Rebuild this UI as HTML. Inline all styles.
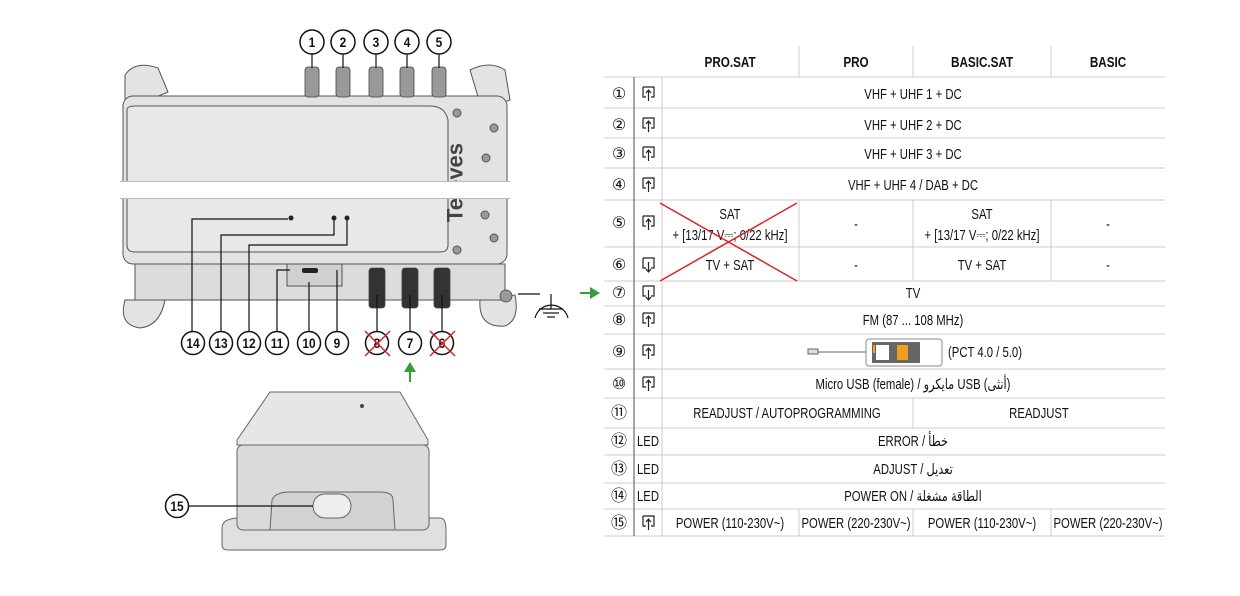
<!DOCTYPE html>
<html><head><meta charset="utf-8"><style>
body{margin:0;background:#fff}
svg text{font-family:"Liberation Sans","DejaVu Sans",sans-serif;font-size:14.5px;fill:#111;text-anchor:middle;transform-box:fill-box;transform-origin:center;transform:scaleX(0.78)}
svg text.b{font-weight:bold;font-size:15px}
svg text.n{font-size:16px;transform:none}
svg text.c{font-weight:bold;font-size:14px;transform:scaleX(0.85)}
</style></head><body>
<svg width="1240" height="591" viewBox="0 0 1240 591" xmlns="http://www.w3.org/2000/svg">
<!-- top device -->
<g stroke="#555" stroke-width="1" fill="#e3e3e3">
<path d="M125 75 Q135 60 158 68 L168 92 L125 110 Z"/>
<path d="M470 70 Q490 60 505 70 L510 100 L482 110 Z"/>
<path d="M125 300 Q118 325 140 328 Q160 326 165 300 Z"/>
<path d="M480 300 Q478 328 505 326 Q520 320 515 295 Z"/>
<rect x="123" y="96" width="384" height="168" rx="10"/>
<path d="M127 110 Q127 106 135 106 L430 106 Q445 106 448 120 L448 245 Q448 252 440 252 L135 252 Q127 252 127 245 Z" fill="#e8e8e8"/>
<rect x="135" y="264" width="370" height="36" fill="#dcdcdc"/>
<rect x="287" y="264" width="55" height="22" fill="#d0d0d0"/>
</g>
<g fill="#999" stroke="#444" stroke-width="0.8">
<rect x="305" y="67" width="14" height="30" rx="3"/><rect x="336" y="67" width="14" height="30" rx="3"/><rect x="369" y="67" width="14" height="30" rx="3"/><rect x="400" y="67" width="14" height="30" rx="3"/><rect x="432" y="67" width="14" height="30" rx="3"/>
<rect x="369" y="268" width="16" height="40" rx="3" fill="#333"/><rect x="402" y="268" width="16" height="40" rx="3" fill="#333"/><rect x="434" y="268" width="16" height="40" rx="3" fill="#333"/>
<circle cx="506" cy="296" r="6"/>
</g>
<g fill="#999" stroke="#555"><circle cx="457" cy="113" r="4"/><circle cx="494" cy="128" r="4"/><circle cx="486" cy="158" r="4"/><circle cx="485" cy="215" r="4"/><circle cx="494" cy="238" r="4"/><circle cx="457" cy="250" r="4"/></g>
<text x="455" y="190" style="font-size:22px;font-weight:bold;fill:#444;transform:rotate(-90deg)">Televes</text>
<rect x="110" y="182" width="420" height="16" fill="#fff"/>
<line x1="120" y1="181.5" x2="510" y2="181.5" stroke="#bbb"/><line x1="120" y1="198.5" x2="510" y2="198.5" stroke="#bbb"/>
<g fill="#222"><circle cx="291" cy="218" r="2.5"/><circle cx="334" cy="218" r="2.5"/><circle cx="347" cy="218" r="2.5"/><rect x="302" y="268" width="16" height="5" rx="2"/></g>
<g fill="none" stroke="#111" stroke-width="1.2">
<polyline points="288,219 192,219 192,332"/><polyline points="334,220 334,235 221,235 221,332"/><polyline points="347,220 347,245 249,245 249,332"/><polyline points="290,270 277,270 277,332"/>
<line x1="309" y1="282" x2="309" y2="332"/><line x1="337" y1="270" x2="337" y2="332"/><line x1="410" y1="295" x2="410" y2="332"/><line x1="377" y1="295" x2="377" y2="332"/><line x1="442" y1="295" x2="442" y2="332"/>
<line x1="312" y1="54" x2="312" y2="68"/><line x1="343" y1="54" x2="343" y2="68"/><line x1="376" y1="54" x2="376" y2="68"/><line x1="407" y1="54" x2="407" y2="68"/><line x1="439" y1="54" x2="439" y2="68"/>
<line x1="518" y1="294" x2="540" y2="294"/><line x1="551" y1="294" x2="551" y2="309"/><path d="M535 318 A17 17 0 0 1 568 318"/><line x1="539" y1="309" x2="563" y2="309"/><line x1="543" y1="313" x2="559" y2="313"/><line x1="547" y1="317" x2="555" y2="317"/>
</g>
<g fill="#fff" stroke="#111" stroke-width="1.5">
<circle cx="312" cy="42" r="12"/><circle cx="343" cy="42" r="12"/><circle cx="376" cy="42" r="12"/><circle cx="407" cy="42" r="12"/><circle cx="439" cy="42" r="12"/>
<circle cx="193" cy="343" r="11.5"/><circle cx="221" cy="343" r="11.5"/><circle cx="249" cy="343" r="11.5"/><circle cx="277" cy="343" r="11.5"/><circle cx="309" cy="343" r="11.5"/><circle cx="337" cy="343" r="11.5"/><circle cx="377" cy="343" r="11.5"/><circle cx="410" cy="343" r="11.5"/><circle cx="442" cy="343" r="11.5"/>
<circle cx="177" cy="506" r="11.5"/>
</g>
<g>
<text class="c" x="312" y="47">1</text><text class="c" x="343" y="47">2</text><text class="c" x="376" y="47">3</text><text class="c" x="407" y="47">4</text><text class="c" x="439" y="47">5</text>
<text class="c" x="193" y="348">14</text><text class="c" x="221" y="348">13</text><text class="c" x="249" y="348">12</text><text class="c" x="277" y="348">11</text><text class="c" x="309" y="348">10</text><text class="c" x="337" y="348">9</text><text class="c" x="377" y="348">8</text><text class="c" x="410" y="348">7</text><text class="c" x="442" y="348">6</text><text class="c" x="177" y="511">15</text>
</g>
<g stroke="#d22" stroke-width="1.5"><line x1="365" y1="331" x2="390" y2="356"/><line x1="390" y1="331" x2="365" y2="356"/><line x1="430" y1="331" x2="455" y2="356"/><line x1="455" y1="331" x2="430" y2="356"/></g>
<g fill="#3a9a3a" stroke="#3a9a3a" stroke-width="2"><line x1="410" y1="382" x2="410" y2="370"/><path d="M404 372 L410 362 L416 372 Z" stroke="none"/><line x1="580" y1="293" x2="592" y2="293"/><path d="M590 287 L600 293 L590 299 Z" stroke="none"/></g>
<!-- bottom device -->
<g stroke="#666" fill="#e0e0e0">
<path d="M222 528 Q222 518 240 518 L440 518 Q446 518 446 530 L446 545 Q446 550 440 550 L228 550 Q222 550 222 545 Z"/>
<rect x="237" y="445" width="192" height="85" rx="6" fill="#dadada"/>
<path d="M270 392 L400 392 L428 440 L428 445 L237 445 L237 440 Z" fill="#e6e6e6"/>
<path d="M270 530 L272 500 Q275 492 290 492 L380 492 Q393 492 393 500 L395 530 Z" fill="#d2d2d2"/>
<rect x="313" y="494" width="38" height="24" rx="12" fill="#eee"/>
</g>
<circle cx="362" cy="406" r="2" fill="#444"/>
<line x1="188" y1="506" x2="313" y2="506" stroke="#111" stroke-width="1.2"/>
<!-- table -->
<g stroke="#ccc" stroke-width="1">
<line x1="604" y1="77" x2="1165" y2="77"/>
<line x1="604" y1="108" x2="1165" y2="108"/><line x1="604" y1="138" x2="1165" y2="138"/><line x1="604" y1="168" x2="1165" y2="168"/><line x1="604" y1="200" x2="1165" y2="200"/><line x1="604" y1="247" x2="1165" y2="247"/><line x1="604" y1="281" x2="1165" y2="281"/><line x1="604" y1="306" x2="1165" y2="306"/><line x1="604" y1="334" x2="1165" y2="334"/><line x1="604" y1="369" x2="1165" y2="369"/><line x1="604" y1="398" x2="1165" y2="398"/><line x1="604" y1="428" x2="1165" y2="428"/><line x1="604" y1="455" x2="1165" y2="455"/><line x1="604" y1="483" x2="1165" y2="483"/><line x1="604" y1="509" x2="1165" y2="509"/><line x1="604" y1="536" x2="1165" y2="536"/>
<line x1="799" y1="46" x2="799" y2="77"/><line x1="913" y1="46" x2="913" y2="77"/><line x1="1051" y1="46" x2="1051" y2="77"/>
<line x1="662" y1="77" x2="662" y2="536"/>
<line x1="799" y1="200" x2="799" y2="281"/><line x1="913" y1="200" x2="913" y2="281"/><line x1="1051" y1="200" x2="1051" y2="281"/>
<line x1="913" y1="398" x2="913" y2="428"/>
<line x1="799" y1="509" x2="799" y2="536"/><line x1="913" y1="509" x2="913" y2="536"/><line x1="1051" y1="509" x2="1051" y2="536"/>
</g>
<line x1="634" y1="77" x2="634" y2="536" stroke="#888" stroke-width="1.5"/>
<text class="b" x="730" y="67">PRO.SAT</text><text class="b" x="856" y="67">PRO</text><text class="b" x="982" y="67">BASIC.SAT</text><text class="b" x="1108" y="67">BASIC</text>
<g>
<text class="n" x="619" y="99">①</text><text class="n" x="619" y="130">②</text><text class="n" x="619" y="159">③</text><text class="n" x="619" y="190">④</text><text class="n" x="619" y="228">⑤</text><text class="n" x="619" y="270">⑥</text><text class="n" x="619" y="298">⑦</text><text class="n" x="619" y="325">⑧</text><text class="n" x="619" y="357">⑨</text><text class="n" x="619" y="389">⑩</text><text class="n" x="619" y="418">⑪</text><text class="n" x="619" y="446">⑫</text><text class="n" x="619" y="474">⑬</text><text class="n" x="619" y="501">⑭</text><text class="n" x="619" y="528">⑮</text>
</g>
<g fill="none" stroke="#222" stroke-width="1.2">
<path d="M643 87 h11 v10 h-3 M643 87 v10 h3 M648.5 101 v-10 M646 93 l2.5 -3 l2.5 3"/>
<path d="M643 118 h11 v10 h-3 M643 118 v10 h3 M648.5 132 v-10 M646 124 l2.5 -3 l2.5 3"/>
<path d="M643 147 h11 v10 h-3 M643 147 v10 h3 M648.5 161 v-10 M646 153 l2.5 -3 l2.5 3"/>
<path d="M643 178 h11 v10 h-3 M643 178 v10 h3 M648.5 192 v-10 M646 184 l2.5 -3 l2.5 3"/>
<path d="M643 216 h11 v10 h-3 M643 216 v10 h3 M648.5 230 v-10 M646 222 l2.5 -3 l2.5 3"/>
<path d="M643 258 h11 v10 h-3 M643 258 v10 h3 M648.5 262 v10 M646 269 l2.5 3 l2.5 -3"/>
<path d="M643 286 h11 v10 h-3 M643 286 v10 h3 M648.5 290 v10 M646 297 l2.5 3 l2.5 -3"/>
<path d="M643 313 h11 v10 h-3 M643 313 v10 h3 M648.5 327 v-10 M646 319 l2.5 -3 l2.5 3"/>
<path d="M643 345 h11 v10 h-3 M643 345 v10 h3 M648.5 359 v-10 M646 351 l2.5 -3 l2.5 3"/>
<path d="M643 377 h11 v10 h-3 M643 377 v10 h3 M648.5 391 v-10 M646 383 l2.5 -3 l2.5 3"/>
<path d="M643 516 h11 v10 h-3 M643 516 v10 h3 M648.5 530 v-10 M646 522 l2.5 -3 l2.5 3"/>
</g>
<text x="648" y="446">LED</text><text x="648" y="474">LED</text><text x="648" y="501">LED</text>
<text x="913" y="99">VHF + UHF 1 + DC</text>
<text x="913" y="130">VHF + UHF 2 + DC</text>
<text x="913" y="159">VHF + UHF 3 + DC</text>
<text x="913" y="190">VHF + UHF 4 / DAB + DC</text>
<text x="730" y="219">SAT</text><text x="730" y="240">+ [13/17 V⎓; 0/22 kHz]</text>
<text x="856" y="229">-</text>
<text x="982" y="219">SAT</text><text x="982" y="240">+ [13/17 V⎓; 0/22 kHz]</text>
<text x="1108" y="229">-</text>
<text x="730" y="270">TV + SAT</text><text x="856" y="270">-</text><text x="982" y="270">TV + SAT</text><text x="1108" y="270">-</text>
<g stroke="#d22" stroke-width="1.5"><line x1="660" y1="203" x2="797" y2="281"/><line x1="797" y1="203" x2="660" y2="281"/></g>
<text x="913" y="298">TV</text>
<text x="913" y="325">FM (87 ... 108 MHz)</text>
<g stroke="#666" fill="none"><line x1="815" y1="352" x2="866" y2="352"/><rect x="808" y="349" width="10" height="5" fill="#ddd"/></g>
<rect x="866" y="339" width="76" height="27" rx="3" fill="#fff" stroke="#888"/>
<rect x="872" y="342" width="48" height="21" fill="#666"/><rect x="876" y="345" width="13" height="15" fill="#fff"/><rect x="873" y="345" width="2" height="8" fill="#f0a020"/><rect x="897" y="345" width="11" height="15" fill="#f0a020"/>
<text x="985" y="357">(PCT 4.0 / 5.0)</text>
<text x="913" y="389">Micro USB  (female) / مايكرو USB (أنثى)</text>
<text x="787" y="418">READJUST / AUTOPROGRAMMING</text><text x="1039" y="418">READJUST</text>
<text x="913" y="446">ERROR / خطأ</text>
<text x="913" y="474">ADJUST / تعديل</text>
<text x="913" y="501">POWER ON / الطاقة مشغلة</text>
<text x="730" y="528">POWER (110-230V~)</text><text x="856" y="528">POWER (220-230V~)</text><text x="982" y="528">POWER (110-230V~)</text><text x="1108" y="528">POWER (220-230V~)</text>
</svg>
</body></html>
